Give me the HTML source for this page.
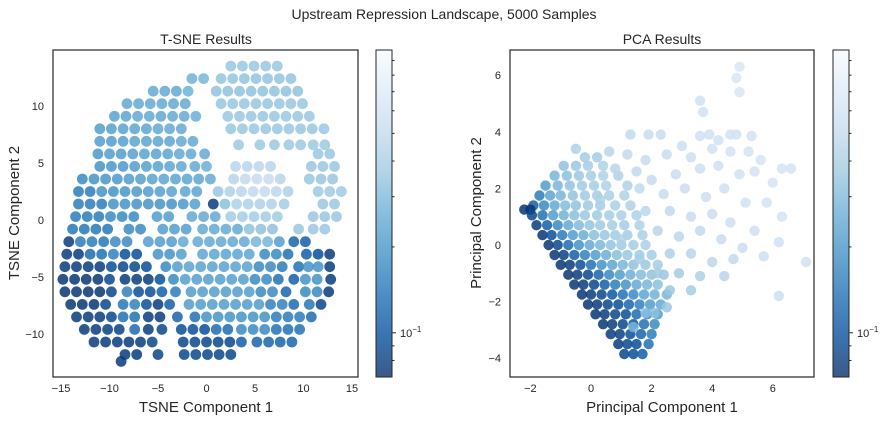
<!DOCTYPE html>
<html><head><meta charset="utf-8"><style>
html,body{margin:0;padding:0;background:#fff;}
svg{display:block;font-family:"Liberation Sans",sans-serif;}
</style></head><body>
<svg id="fig" width="888" height="421" viewBox="0 0 888 421">
<defs>
<linearGradient id="cbg" x1="0" y1="1" x2="0" y2="0">
<stop offset="0" stop-color="#08306b"/><stop offset="0.125" stop-color="#08519c"/><stop offset="0.25" stop-color="#2171b5"/><stop offset="0.375" stop-color="#4292c6"/><stop offset="0.5" stop-color="#6baed6"/><stop offset="0.625" stop-color="#9ecae1"/><stop offset="0.75" stop-color="#c6dbef"/><stop offset="0.875" stop-color="#deebf7"/><stop offset="1" stop-color="#f7fbff"/>
</linearGradient>
<clipPath id="c1"><rect x="53" y="50" width="305" height="327"/></clipPath>
<clipPath id="c2"><rect x="510" y="50" width="304" height="327"/></clipPath>
</defs>
<text x="444" y="19" font-size="14" text-anchor="middle" fill="#262626">Upstream Repression Landscape, 5000 Samples</text>
<text x="206" y="44" font-size="14" text-anchor="middle" fill="#262626">T-SNE Results</text>
<text x="662" y="44" font-size="14" text-anchor="middle" fill="#262626">PCA Results</text>
<g id="p1" clip-path="url(#c1)"></g>
<g id="p2" clip-path="url(#c2)"></g>
<rect x="53" y="50" width="305" height="327" fill="none" stroke="#262626" stroke-width="1.2"/>
<rect x="510" y="50" width="304" height="327" fill="none" stroke="#262626" stroke-width="1.2"/>
<g id="ax" font-size="11" fill="#262626"></g>
<text x="206" y="412" font-size="15" text-anchor="middle" fill="#262626">TSNE Component 1</text>
<text x="662" y="412" font-size="15" text-anchor="middle" fill="#262626">Principal Component 1</text>
<text transform="translate(19,213) rotate(-90)" font-size="15" text-anchor="middle" fill="#262626">TSNE Component 2</text>
<text transform="translate(481,213) rotate(-90)" font-size="15" text-anchor="middle" fill="#262626">Principal Component 2</text>
<rect x="376" y="50" width="16" height="327" fill="url(#cbg)" opacity="0.8"/>
<rect x="376" y="50" width="16" height="327" fill="none" stroke="#262626" stroke-width="1"/>
<rect x="833" y="50" width="16" height="327" fill="url(#cbg)" opacity="0.8"/>
<rect x="833" y="50" width="16" height="327" fill="none" stroke="#262626" stroke-width="1"/>
</svg>
<script>
const tsneX=[2.5,3.7,4.9,6.1,7.3,
-1.5,-0.3,1.5,2.7,3.9,5.1,6.3,7.5,8.7,
-5.5,-4.3,-3.1,-1.9,1.0,2.2,3.4,4.6,5.8,7.0,8.2,9.4,
-8.2,-7,-5.8,-4.6,-3.4,-2.2,1.5,2.7,3.9,5.1,6.3,7.5,8.7,9.9,
-9.5,-8.3,-7.1,-5.9,-4.7,-3.5,-2.3,-1.1,2.2,3.4,4.6,5.8,7,8.2,9.4,10.6,
-11,-9.8,-8.6,-7.4,-6.2,-5,-3.8,-2.6,2.5,3.7,4.9,6.1,7.3,8.5,9.7,10.9,12.1,
-11,-9.8,-8.6,-7.4,-6.2,-5,-3.8,-2.6,-1.4,3.3,5.5,7.0,8.5,9.7,11,12.2,
-11.2,-10,-8.8,-7.6,-6.4,-5.2,-4,-2.8,-1.6,-0.2,11.5,12.7,
-11,-9.8,-8.6,-7.4,-6.2,-5,-3.8,-2.6,-1.2,0.0,3,4.2,5.4,6.6,10.8,12,13.2,
-12.8,-11.6,-10.4,-9.2,-8,-6.8,-5.6,-4.4,-3.2,-2,-0.8,0.4,2.8,4,5.2,6.4,7.6,10.6,11.8,13,
-13.2,-12,-10.8,-9.6,-8.4,-7.2,-6,-4.8,-3.6,-2.2,-1,1.2,2.4,3.6,4.8,6,7.2,8.4,11.5,12.7,13.9,
-13.2,-12,-10.8,-9.6,-8.4,-7.2,-6,-4.8,-3.6,-2.4,-1.2,0.7,1.9,3.1,4.3,5.5,6.7,8,12,13.2,
-13.5,-12.3,-11.1,-9.9,-8.7,-7.5,-5.1,-3.9,-1.5,-0.3,0.9,2.5,3.7,4.9,6.1,7.3,11,12.2,13.4,
-13.8,-12.6,-11.4,-10.2,-8,-6.8,-4.5,-3.3,-2.1,-0.4,0.8,2,3.2,4.4,5.6,6.8,9.5,11,12.2,
-14.2,-13,-11.8,-10.6,-9.4,-8.2,-6,-4.8,-3.6,-2.4,-0.9,0.3,1.5,2.7,3.9,5.1,6.3,7.5,9,10.2,
-14.4,-13.2,-12,-10.8,-9.6,-8.4,-7.2,-5,-3.8,-2.6,-0.4,0.8,2,3.2,4.4,6,7.2,8.4,10.3,11.5,12.7,
-14.6,-13.4,-12.2,-11,-9.8,-8.6,-7.4,-6.2,-4.2,-3,-1.8,-0.6,0.6,1.8,3,4.2,5.4,6.6,7.8,9.5,10.5,11.5,12.7,
-14.8,-13.6,-12.4,-11.2,-10,-8.4,-7.2,-6,-4.8,-3.4,-2.2,-1,0.2,1.4,2.6,3.8,5,6.2,7.4,9,10.2,11.4,12.8,
-14.6,-13.4,-12.2,-11,-9.8,-8.2,-7,-5.8,-4.6,-3.2,-1.6,-0.4,0.8,2,3.2,4.4,5.6,6.8,8.2,10.2,11.4,12.6,
-14,-12.8,-11.6,-10.4,-8.6,-7.4,-6.2,-5,-3.8,-1.8,-0.6,0.6,1.8,3,4.2,5.4,6.6,7.8,9,10.6,11.8,
-13.4,-12.2,-11,-9.8,-8.6,-7.4,-6,-4.8,-3,-1.2,0,1.2,2.4,3.6,4.8,6,7.2,8.4,9.6,10.8,
-12.6,-11.4,-10.2,-9,-7.4,-6,-4.6,-2.6,-1.4,-0.2,1,2.2,3.6,4.8,6,7.2,8.4,9.6,
-11.6,-10.4,-9.2,-8,-6.8,-5.6,-2.4,-1.2,0,1.2,2.4,3.6,5.2,6.4,7.6,8.8,
-8.4,-7.2,-5,-2.3,-1.1,0.1,1.3,2.5,
-8.8];
const tsneY=[13.5,13.5,13.5,13.5,13.5,
12.4,12.4,12.4,12.4,12.4,12.4,12.4,12.4,12.4,
11.3,11.3,11.3,11.3,11.3,11.3,11.3,11.3,11.3,11.3,11.3,11.3,
10.2,10.2,10.2,10.2,10.2,10.2,10.2,10.2,10.2,10.2,10.2,10.2,10.2,10.2,
9.1,9.1,9.1,9.1,9.1,9.1,9.1,9.1,9.1,9.1,9.1,9.1,9.1,9.1,9.1,9.1,
8,8,8,8,8,8,8,8,8,8,8,8,8,8,8,8,8,
6.9,6.9,6.9,6.9,6.9,6.9,6.9,6.9,6.9,6.6,6.6,6.6,6.6,6.6,6.6,6.6,
5.8,5.8,5.8,5.8,5.8,5.8,5.8,5.8,5.8,5.8,5.8,5.8,
4.7,4.7,4.7,4.7,4.7,4.7,4.7,4.7,4.7,4.7,4.7,4.7,4.7,4.7,4.7,4.7,4.7,
3.6,3.6,3.6,3.6,3.6,3.6,3.6,3.6,3.6,3.6,3.6,3.6,3.6,3.6,3.6,3.6,3.6,3.6,3.6,3.6,
2.5,2.5,2.5,2.5,2.5,2.5,2.5,2.5,2.5,2.5,2.5,2.5,2.5,2.5,2.5,2.5,2.5,2.5,2.5,2.5,2.5,
1.4,1.4,1.4,1.4,1.4,1.4,1.4,1.4,1.4,1.4,1.4,1.4,1.4,1.4,1.4,1.4,1.4,1.4,1.4,1.4,
0.3,0.3,0.3,0.3,0.3,0.3,0.3,0.3,0.3,0.3,0.3,0.3,0.3,0.3,0.3,0.3,0.3,0.3,0.3,
-0.8,-0.8,-0.8,-0.8,-0.8,-0.8,-0.8,-0.8,-0.8,-0.8,-0.8,-0.8,-0.8,-0.8,-0.8,-0.8,-0.8,-0.8,-0.8,
-1.9,-1.9,-1.9,-1.9,-1.9,-1.9,-1.9,-1.9,-1.9,-1.9,-1.9,-1.9,-1.9,-1.9,-1.9,-1.9,-1.9,-1.9,-1.9,-1.9,
-3,-3,-3,-3,-3,-3,-3,-3,-3,-3,-3,-3,-3,-3,-3,-3,-3,-3,-3,-3,-3,
-4.1,-4.1,-4.1,-4.1,-4.1,-4.1,-4.1,-4.1,-4.1,-4.1,-4.1,-4.1,-4.1,-4.1,-4.1,-4.1,-4.1,-4.1,-4.1,-4.1,-4.1,-4.1,-4.1,
-5.2,-5.2,-5.2,-5.2,-5.2,-5.2,-5.2,-5.2,-5.2,-5.2,-5.2,-5.2,-5.2,-5.2,-5.2,-5.2,-5.2,-5.2,-5.2,-5.2,-5.2,-5.2,-5.2,
-6.3,-6.3,-6.3,-6.3,-6.3,-6.3,-6.3,-6.3,-6.3,-6.3,-6.3,-6.3,-6.3,-6.3,-6.3,-6.3,-6.3,-6.3,-6.3,-6.3,-6.3,-6.3,
-7.4,-7.4,-7.4,-7.4,-7.4,-7.4,-7.4,-7.4,-7.4,-7.4,-7.4,-7.4,-7.4,-7.4,-7.4,-7.4,-7.4,-7.4,-7.4,-7.4,-7.4,
-8.5,-8.5,-8.5,-8.5,-8.5,-8.5,-8.5,-8.5,-8.5,-8.5,-8.5,-8.5,-8.5,-8.5,-8.5,-8.5,-8.5,-8.5,-8.5,-8.5,
-9.6,-9.6,-9.6,-9.6,-9.6,-9.6,-9.6,-9.6,-9.6,-9.6,-9.6,-9.6,-9.6,-9.6,-9.6,-9.6,-9.6,-9.6,
-10.7,-10.7,-10.7,-10.7,-10.7,-10.7,-10.7,-10.7,-10.7,-10.7,-10.7,-10.7,-10.7,-10.7,-10.7,-10.7,
-11.8,-11.8,-11.8,-11.8,-11.8,-11.8,-11.8,-11.8,
-12.4];
const tsneV=[.45,.45,.45,.45,.45,
.33,.35,.43,.43,.43,.43,.43,.43,.43,
.3,.3,.3,.33,.42,.42,.42,.42,.42,.42,.42,.42,
.3,.3,.3,.3,.3,.3,.44,.44,.44,.44,.44,.44,.44,.44,
.27,.28,.3,.3,.29,.3,.3,.32,.45,.45,.45,.45,.45,.45,.45,.45,
.25,.26,.27,.28,.28,.29,.3,.3,.45,.45,.45,.45,.45,.45,.45,.45,.45,
.25,.25,.26,.27,.27,.28,.28,.3,.3,.46,.46,.46,.46,.46,.46,.46,
.24,.25,.25,.26,.27,.27,.28,.29,.3,.3,.45,.45,
.22,.23,.24,.25,.26,.27,.28,.29,.3,.32,.6,.6,.62,.6,.45,.45,.45,
.2,.22,.23,.24,.25,.26,.27,.28,.28,.28,.28,.3,.6,.65,.7,.7,.6,.45,.45,.45,
.17,.17,.22,.22,.23,.24,.25,.26,.27,.28,.28,.45,.55,.6,.65,.68,.62,.55,.47,.47,.47,
.17,.17,.17,.22,.22,.22,.22,.22,.22,.24,.26,.08,.4,.55,.55,.55,.55,.5,.45,.45,
.17,.17,.17,.2,.2,.2,.25,.25,.3,.3,.3,.5,.5,.5,.5,.48,.45,.45,.45,
.16,.16,.16,.16,.2,.2,.25,.25,.25,.3,.3,.3,.3,.42,.42,.42,.45,.45,.45,
.08,.17,.17,.16,.2,.2,.25,.25,.25,.3,.3,.3,.3,.3,.3,.35,.35,.25,.13,.12,
.08,.08,.14,.15,.18,.1,.1,.22,.22,.25,.28,.28,.28,.28,.28,.2,.2,.15,.12,.1,.08,
.08,.08,.08,.08,.1,.09,.09,.1,.2,.25,.27,.27,.27,.27,.27,.27,.2,.2,.17,.15,.22,.22,.08,
.075,.075,.075,.075,.09,.08,.08,.08,.1,.2,.26,.26,.26,.26,.26,.26,.2,.2,.15,.12,.22,.22,.08,
.075,.075,.075,.075,.09,.18,.1,.1,.12,.17,.25,.25,.25,.25,.25,.25,.2,.2,.13,.2,.2,.08,
.075,.075,.075,.09,.16,.18,.1,.08,.12,.25,.25,.25,.25,.25,.25,.25,.18,.18,.14,.16,.09,
.08,.08,.08,.09,.15,.15,.08,.08,.13,.15,.22,.22,.22,.22,.22,.22,.17,.17,.17,.14,
.08,.08,.085,.085,.14,.08,.09,.1,.1,.1,.14,.14,.2,.2,.2,.15,.15,.15,
.08,.08,.08,.08,.08,.09,.09,.09,.09,.09,.09,.12,.13,.13,.13,.13,
.08,.08,.09,.09,.09,.09,.09,.09,
.08];

const pcaX=[-0.2,0.2,
-0.9,-0.5,-0.1,0.4,
-1.2,-0.8,-0.4,0,0.4,0.9,
-1.5,-1.1,-0.7,-0.3,0.1,0.5,1.2,
-1.7,-1.35,-1.0,-0.6,-0.2,0.2,0.6,1.1,
-1.9,-1.55,-1.2,-0.85,-0.5,-0.1,0.3,0.8,1.3,
-2.2,-2.0,
-1.95,-1.6,-1.25,-0.9,-0.55,-0.2,0.2,0.6,1.0,1.5,
-1.8,-1.45,-1.1,-0.75,-0.4,-0.05,0.3,0.7,1.1,1.6,
-1.6,-1.3,-0.95,-0.6,-0.25,0.1,0.45,0.8,1.2,1.7,
-1.4,-1.1,-0.75,-0.4,-0.05,0.3,0.65,1.0,1.4,1.8,
-1.2,-0.9,-0.55,-0.2,0.15,0.5,0.85,1.2,1.6,2.0,
-1.0,-0.7,-0.35,0,0.35,0.7,1.05,1.4,1.8,2.2,
-0.75,-0.45,-0.1,0.25,0.6,0.95,1.3,1.65,2.0,2.4,
-0.55,-0.25,0.1,0.45,0.8,1.15,1.5,1.85,2.2,
-0.3,0,0.35,0.7,1.05,1.4,1.75,2.1,2.5,
-0.1,0.2,0.55,0.9,1.25,1.6,1.95,2.3,
0.15,0.45,0.8,1.15,1.5,1.85,2.2,
0.4,0.7,1.05,1.4,1.75,2.1,
0.65,0.95,1.3,1.65,2.0,
0.9,1.2,1.5,1.9,
1.1,1.4,1.7,
1.9,2.3,3.6,3.9,4.6,4.8,5.3,4.2,
-0.5,0.6,1.3,1.2,1.8,2.5,3.0,3.3,4.0,4.6,5.2,5.6,6.3,6.6,2.8,2.0,3.6,4.2,4.9,5.4,6.0,1.6,2.4,3.1,3.8,4.4,5.1,5.8,6.3,1.8,2.6,3.3,4.0,4.6,5.4,6.2,2.2,2.9,3.6,4.3,5.0,5.7,7.1,2.6,3.3,4.0,4.7,2.9,3.6,4.4,2.6,3.3,2.1,2.5,6.2,4.9,4.8,4.9,3.6,3.7,0.8,1.5,0.3,1.0,1.6,2.2,1.8,1.4];
const pcaY=[3.1,3.1,
2.8,2.8,2.8,2.8,
2.45,2.45,2.45,2.45,2.45,2.45,
2.1,2.1,2.1,2.1,2.1,2.1,2.1,
1.75,1.75,1.75,1.75,1.75,1.75,1.75,1.75,
1.4,1.4,1.4,1.4,1.4,1.4,1.4,1.4,1.4,
1.25,1.25,
1.05,1.05,1.05,1.05,1.05,1.05,1.05,1.05,1.05,1.05,
0.7,0.7,0.7,0.7,0.7,0.7,0.7,0.7,0.7,0.7,
0.35,0.35,0.35,0.35,0.35,0.35,0.35,0.35,0.35,0.35,
0,0,0,0,0,0,0,0,0,0,
-0.35,-0.35,-0.35,-0.35,-0.35,-0.35,-0.35,-0.35,-0.35,-0.35,
-0.7,-0.7,-0.7,-0.7,-0.7,-0.7,-0.7,-0.7,-0.7,-0.7,
-1.05,-1.05,-1.05,-1.05,-1.05,-1.05,-1.05,-1.05,-1.05,-1.05,
-1.4,-1.4,-1.4,-1.4,-1.4,-1.4,-1.4,-1.4,-1.4,
-1.75,-1.75,-1.75,-1.75,-1.75,-1.75,-1.75,-1.75,-1.75,
-2.1,-2.1,-2.1,-2.1,-2.1,-2.1,-2.1,-2.1,
-2.45,-2.45,-2.45,-2.45,-2.45,-2.45,-2.45,
-2.8,-2.8,-2.8,-2.8,-2.8,-2.8,
-3.15,-3.15,-3.15,-3.15,-3.15,
-3.5,-3.5,-3.5,-3.5,
-3.85,-3.85,-3.85,
3.9,3.9,3.85,3.9,3.9,3.9,3.85,3.7,
3.4,3.3,3.9,3.2,3.0,3.2,3.5,3.1,3.4,3.3,3.3,3.0,2.7,2.7,2.5,2.3,2.7,2.8,2.5,2.6,2.2,2.0,1.8,2.0,1.7,2.0,1.5,1.5,1.0,1.2,1.2,1.0,1.1,0.8,0.5,0.1,0.5,0.3,0.5,0.2,-0.1,-0.4,-0.6,-0.3,-0.3,-0.6,-0.5,-1.0,-1.1,-1.1,-1.6,-1.6,-2.4,-2.2,-1.8,6.3,5.9,5.4,5.1,4.7,2.7,2.6,1.6,0.2,-0.5,-1.0,-2.4,-2.9];
const pcaV=[.5,.5,
.42,.45,.5,.55,
.35,.4,.45,.5,.55,.55,
.25,.35,.42,.48,.5,.55,.55,
.17,.28,.35,.42,.48,.5,.52,.55,
.12,.2,.3,.38,.42,.47,.5,.52,.55,
.075,.075,
.09,.15,.25,.33,.4,.45,.48,.5,.52,.55,
.08,.12,.2,.3,.37,.43,.47,.5,.5,.55,
.075,.1,.17,.25,.32,.4,.45,.48,.5,.52,
.075,.09,.14,.22,.3,.36,.43,.47,.5,.52,
.075,.085,.12,.18,.25,.32,.4,.45,.48,.5,
.075,.08,.1,.15,.22,.28,.35,.42,.45,.5,
.075,.08,.09,.13,.2,.25,.32,.38,.42,.45,
.075,.08,.09,.12,.17,.22,.3,.35,.4,
.075,.08,.09,.11,.15,.2,.28,.33,.35,
.075,.08,.09,.1,.13,.18,.25,.3,
.075,.08,.09,.1,.14,.2,.25,
.075,.08,.09,.11,.15,.2,
.08,.085,.1,.13,.17,
.08,.09,.1,.15,
.09,.1,.12,
.7,.7,.78,.78,.8,.8,.82,.8,
.55,.6,.65,.65,.7,.72,.75,.75,.8,.82,.82,.85,.85,.85,.72,.68,.75,.78,.8,.82,.85,.65,.7,.72,.75,.78,.8,.82,.85,.62,.65,.7,.72,.75,.78,.8,.6,.62,.65,.7,.72,.75,.8,.55,.6,.62,.65,.5,.55,.6,.45,.5,.4,.45,.75,.9,.9,.88,.8,.8,.6,.65,.55,.55,.5,.48,.4,.35];

const NS='http://www.w3.org/2000/svg';
const stops=[[247,251,255],[222,235,247],[198,219,239],[158,202,225],[107,174,214],[66,146,198],[33,113,181],[8,81,156],[8,48,107]];
const vmin=0.07,vmax=0.98;
function norm(v){return (Math.log10(v)-Math.log10(vmin))/(Math.log10(vmax)-Math.log10(vmin));}
function color(v){let t=1-0.87*Math.max(0,Math.min(1,norm(v)));let f=t*8,i=Math.min(7,Math.floor(f)),r=f-i;
const a=stops[i],b=stops[i+1];return 'rgb('+a.map((c,k)=>Math.round(c+(b[k]-c)*r)).join(',')+')';}
const sx1=x=>206.5+9.7*x, sy1=y=>220-11.4*y;
const sx2=x=>591+30.3*x, sy2=y=>245-28.3*y;
function draw(g,X,Y,V,sx,sy,name,r){
 X.forEach((x,i)=>{const c=document.createElementNS(NS,'circle');
 c.setAttribute('cx',sx(x).toFixed(1));c.setAttribute('cy',sy(Y[i]).toFixed(1));c.setAttribute('r',r);
 c.setAttribute('fill',color(V[i]));c.setAttribute('fill-opacity',0.85);
 
 
 g.appendChild(c);});
}
draw(document.getElementById('p1'),tsneX,tsneY,tsneV,sx1,sy1,'tsne-point',5.4);
draw(document.getElementById('p2'),pcaX,pcaY,pcaV,sx2,sy2,'pca-point',5.2);

const ax=document.getElementById('ax');
function txt(x,y,s,anchor,name){const t=document.createElementNS(NS,'text');t.setAttribute('x',x);t.setAttribute('y',y);t.setAttribute('text-anchor',anchor);t.textContent=s;
 
 
 ax.appendChild(t);return t;}
function line(x1,y1,x2,y2){const l=document.createElementNS(NS,'line');l.setAttribute('x1',x1);l.setAttribute('y1',y1);l.setAttribute('x2',x2);l.setAttribute('y2',y2);l.setAttribute('stroke','#262626');l.setAttribute('stroke-width',1);
 
 
 ax.appendChild(l);}
const tsneXTicks=[-15,-10,-5,0,5,10,15], tsneYTicks=[-10,-5,0,5,10];
const pcaXTicks=[-2,0,2,4,6], pcaYTicks=[-4,-2,0,2,4,6];
tsneXTicks.forEach(v=>txt(sx1(v),392,String(v).replace('-','−'),'middle','tsne-x-tick-label'));
tsneYTicks.forEach(v=>txt(44,sy1(v)+4,String(v).replace('-','−'),'end','tsne-y-tick-label'));
pcaXTicks.forEach(v=>txt(sx2(v),392,String(v).replace('-','−'),'middle','pca-x-tick-label'));
pcaYTicks.forEach(v=>txt(501,sy2(v)+4,String(v).replace('-','−'),'end','pca-y-tick-label'));
const cbTicks=[0.08,0.09,0.1,0.2,0.3,0.4,0.5,0.6,0.7,0.8,0.9];
[392,849].forEach(x0=>{
 cbTicks.forEach(v=>{const y=377-327*norm(v);line(x0,y,x0+(v===0.1?4:2.5),y);});
 const y=377-327*norm(0.1);
 const t=txt(x0+8,y+4,'10','start','colorbar-tick-label');
 const s=document.createElementNS(NS,'tspan');s.setAttribute('dy',-5);s.setAttribute('font-size',8);s.textContent='−1';t.appendChild(s);
});
</script>
</body></html>
